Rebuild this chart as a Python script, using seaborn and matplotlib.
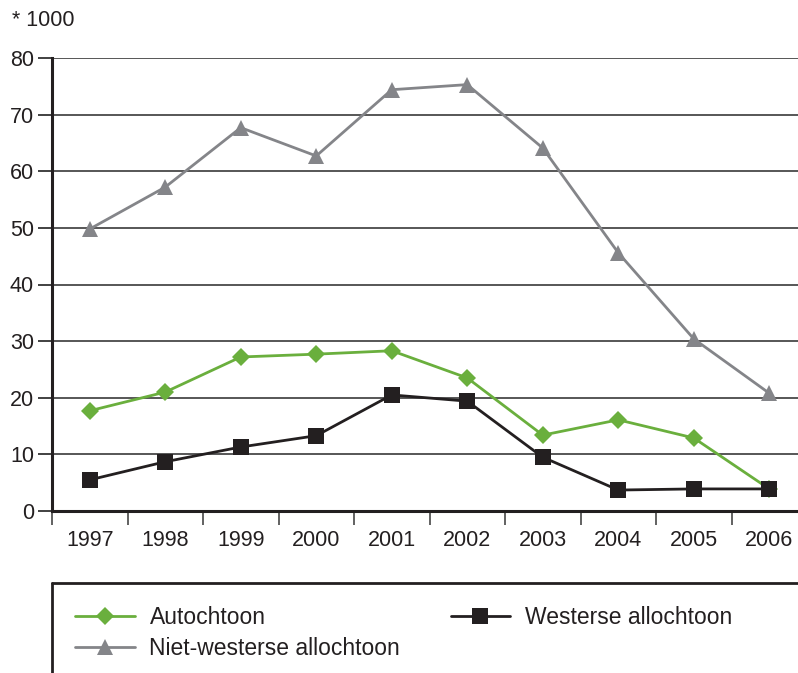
import matplotlib
matplotlib.use("Agg")
import matplotlib.pyplot as plt
from matplotlib.lines import Line2D
from matplotlib.ticker import FixedLocator
import seaborn as sns
import pandas as pd
import numpy as np

years = ["1997", "1998", "1999", "2000", "2001", "2002", "2003", "2004", "2005", "2006"]
autochtoon = [17.7, 21.0, 27.2, 27.7, 28.3, 23.5, 13.4, 16.1, 12.9, 3.9]
westers = [5.5, 8.7, 11.3, 13.3, 20.5, 19.4, 9.5, 3.7, 3.9, 3.9]
niet_westers = [49.8, 57.2, 67.7, 62.7, 74.4, 75.3, 64.1, 45.6, 30.4, 20.8]

series_names = ["Autochtoon", "Westerse allochtoon", "Niet-westerse allochtoon"]
y_ticks = [0, 10, 20, 30, 40, 50, 60, 70, 80]
unit_label = "* 1000"

sns.set_theme(style="white")
plt.rcParams["font.family"] = ["Liberation Sans", "DejaVu Sans"]

GREEN = "#6aaf3d"
GRAY = "#848589"
BLACK = "#231f20"

df = pd.DataFrame({
    "x": list(range(len(years))) * 3,
    "value": niet_westers + autochtoon + westers,
    "series": [series_names[2]] * len(years) + [series_names[0]] * len(years) + [series_names[1]] * len(years),
})

fig = plt.figure(figsize=(7.98, 6.73), dpi=100)
W, H = 798, 673
ax = fig.add_axes([52 / W, 1 - 511 / H, (807 - 52) / W, (511 - 58) / H])

styles = {
    series_names[2]: dict(color=GRAY, marker="^", markersize=12),
    series_names[0]: dict(color=GREEN, marker="D", markersize=9.5),
    series_names[1]: dict(color=BLACK, marker="s", markersize=12),
}
for name in [series_names[2], series_names[0], series_names[1]]:
    sub = df[df["series"] == name]
    st = styles[name]
    sns.lineplot(data=sub, x="x", y="value", ax=ax, color=st["color"], marker=st["marker"],
                 markersize=st["markersize"], markeredgewidth=0, linewidth=2.0, legend=False,
                 zorder=3)

ax.set_xlim(-0.5, len(years) - 0.5)
ax.set_ylim(0, 80)
ax.set_yticks(y_ticks)
ax.set_yticklabels([str(t) for t in y_ticks])
ax.set_xticks(range(len(years)))
ax.set_xticklabels(years)
ax.xaxis.set_minor_locator(FixedLocator(np.arange(-0.5, len(years), 1.0)))
ax.tick_params(axis="x", which="major", length=0, pad=14, labelsize=15.5, labelcolor="#231f20")
ax.tick_params(axis="x", which="minor", length=10, width=1.3, color="#555555", direction="out", bottom=True)
ax.tick_params(axis="y", which="major", length=10, width=1.3, color="#333333", pad=3,
               labelsize=15.5, labelcolor="#231f20", left=True)
ax.set_xlabel("")
ax.set_ylabel("")

for t in y_ticks[1:]:
    ax.axhline(t, color="#3a3a3a", linewidth=1.2, zorder=1)

for s in ["top", "right"]:
    ax.spines[s].set_visible(False)
ax.spines["left"].set_color("#231f20")
ax.spines["left"].set_linewidth(2.2)
ax.spines["bottom"].set_color("#231f20")
ax.spines["bottom"].set_linewidth(2.2)

fig.text(12 / W, 1 - 20 / H, unit_label, fontsize=15.5, color="#231f20", va="center", ha="left")

# legend frame (top and left edges)
fig.add_artist(Line2D([52 / W, 1.0], [1 - 583 / H, 1 - 583 / H], transform=fig.transFigure,
                      color="#231f20", linewidth=2.0))
fig.add_artist(Line2D([52 / W, 52 / W], [1 - 583 / H, 0], transform=fig.transFigure,
                      color="#231f20", linewidth=2.0))

handles = [
    Line2D([], [], color=GREEN, marker="D", markersize=9.5, markeredgewidth=0, linewidth=2.0),
    Line2D([], [], color=GRAY, marker="^", markersize=12, markeredgewidth=0, linewidth=2.0),
    Line2D([], [], color=BLACK, marker="s", markersize=12, markeredgewidth=0, linewidth=2.0),
]
labels = [series_names[0], series_names[2], series_names[1]]
fig.legend(handles, labels, loc="upper left", bbox_to_anchor=(75 / W, 1 - 606 / H), ncol=2,
           frameon=False, fontsize=16.5, handlelength=2.6, handletextpad=0.65, columnspacing=2.2,
           labelspacing=0.35, borderaxespad=0, borderpad=0, labelcolor="#231f20")

fig.savefig("out.png", dpi=100)
